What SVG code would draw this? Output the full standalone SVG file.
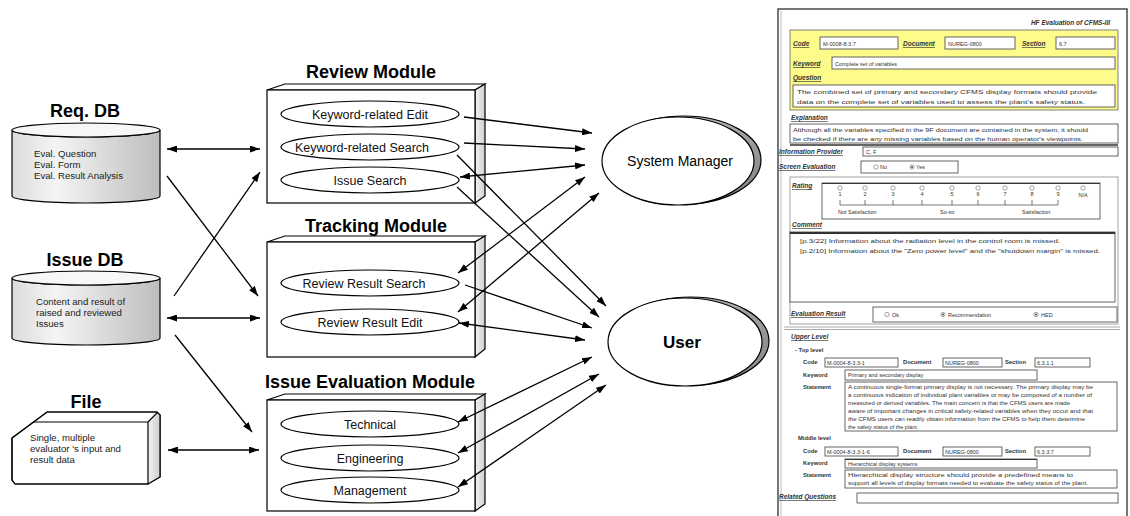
<svg xmlns="http://www.w3.org/2000/svg" width="1130" height="516" viewBox="0 0 1130 516">
<defs>
<marker id="ah" viewBox="0 0 10 7" markerWidth="10" markerHeight="7" refX="10" refY="3.5" orient="auto-start-reverse" markerUnits="userSpaceOnUse"><path d="M0,0 L10,3.5 L0,7 z" fill="#000"/></marker>
<linearGradient id="cyl" x1="0" y1="0" x2="1" y2="0"><stop offset="0" stop-color="#dcdcdc"/><stop offset="0.3" stop-color="#f4f4f4"/><stop offset="1" stop-color="#bdbdbd"/></linearGradient>
<linearGradient id="side" x1="0" y1="0" x2="1" y2="0"><stop offset="0" stop-color="#f2f2f2"/><stop offset="1" stop-color="#cfcfcf"/></linearGradient>
<linearGradient id="shd" x1="0" y1="0" x2="1" y2="1"><stop offset="0" stop-color="#c8c8c8"/><stop offset="1" stop-color="#808080"/></linearGradient>
</defs>
<style>
.t{font-family:"Liberation Sans",Arial,sans-serif;fill:#000}
.ttl{font-family:"Liberation Sans",Arial,sans-serif;font-weight:bold;font-size:18px;text-anchor:middle}
.db{font-family:"Liberation Sans",Arial,sans-serif;font-size:9.6px;fill:#222}
.uc{font-family:"Liberation Sans",Arial,sans-serif;font-size:12.5px;text-anchor:middle;fill:#111}
.ln{stroke:#000;stroke-width:1.3;fill:none}
.out{stroke:#000;stroke-width:1.2}
.f{font-family:"Liberation Sans",Arial,sans-serif;font-size:5.5px;fill:#333}
.fl{font-family:"Liberation Sans",Arial,sans-serif;font-size:6.5px;font-weight:bold;font-style:italic;fill:#333;text-decoration:underline}
.fb{font-family:"Liberation Sans",Arial,sans-serif;font-size:5.8px;font-weight:bold;fill:#333}
.bx{fill:#fff;stroke:#555;stroke-width:0.9}
.rd{fill:#fff;stroke:#666;stroke-width:0.6}
</style>

<g id="reqdb">
<text class="ttl" x="85" y="117">Req. DB</text>
<path d="M12,130 L12,196 A74,7 0 0 0 160,196 L160,130 A74,7 0 0 1 12,130 Z" fill="url(#cyl)" class="out"/>
<ellipse cx="86" cy="130" rx="74" ry="7" fill="#f7f7f7" class="out"/>
<text class="db" x="34" y="157">Eval. Question</text>
<text class="db" x="34" y="168">Eval. Form</text>
<text class="db" x="34" y="179">Eval. Result Analysis</text>
</g>

<g id="issuedb">
<text class="ttl" x="85" y="266">Issue DB</text>
<path d="M12,278 L12,338 A74,7 0 0 0 160,338 L160,278 A74,7 0 0 1 12,278 Z" fill="url(#cyl)" class="out"/>
<ellipse cx="86" cy="278" rx="74" ry="7" fill="#f7f7f7" class="out"/>
<text class="db" x="36" y="305">Content and result of</text>
<text class="db" x="36" y="316">raised and reviewed</text>
<text class="db" x="36" y="327">Issues</text>
</g>

<g id="file">
<text class="ttl" x="86" y="408">File</text>
<path d="M12,438 L47,412 L157,412 L160,415 L160,477 L148,484 L15,484 L12,480 Z" fill="#fff" class="out"/>
<path d="M148,422 L158,413 L160,415 L160,477 L148,484 Z" fill="url(#side)" stroke="none"/>
<path d="M34,422 L148,422 L148,484 M148,422 L157,413" class="out" fill="none"/>
<path d="M12,438 L47,412 L157,412 L160,415 L160,477 L148,484 L15,484 L12,480 Z" fill="none" class="out"/>
<text class="db" x="30" y="441">Single, multiple</text>
<text class="db" x="30" y="452">evaluator  's input and</text>
<text class="db" x="30" y="463">result data</text>
</g>

<g id="review">
<text class="ttl" x="371" y="78">Review Module</text>
<polygon points="267,90 285,84 485,84 475,90" fill="#fff" class="out"/>
<polygon points="475,90 485,84 485,196 475,203" fill="url(#side)" class="out"/>
<rect x="267" y="90" width="208" height="113" fill="#fff" class="out"/>
<ellipse cx="370" cy="114" rx="89" ry="13" fill="#fff" class="out"/>
<text class="uc" x="370" y="118.5">Keyword-related Edit</text>
<ellipse cx="370" cy="147" rx="89" ry="13" fill="#fff" class="out"/>
<text class="uc" x="362" y="151.5">Keyword-related Search</text>
<ellipse cx="370" cy="180" rx="89" ry="13" fill="#fff" class="out"/>
<text class="uc" x="370" y="184.5">Issue Search</text>
</g>

<g id="tracking">
<text class="ttl" x="376" y="232">Tracking Module</text>
<polygon points="267,242 285,236 485,236 475,242" fill="#fff" class="out"/>
<polygon points="475,242 485,236 485,349 475,357" fill="url(#side)" class="out"/>
<rect x="267" y="242" width="208" height="115" fill="#fff" class="out"/>
<ellipse cx="370" cy="283" rx="89" ry="13" fill="#fff" class="out"/>
<text class="uc" x="364" y="287.5">Review Result Search</text>
<ellipse cx="370" cy="322" rx="89" ry="13" fill="#fff" class="out"/>
<text class="uc" x="370" y="326.5">Review Result Edit</text>
</g>

<g id="evaluation">
<text class="ttl" x="370" y="388">Issue Evaluation Module</text>
<polygon points="267,400 285,394 485,394 475,400" fill="#fff" class="out"/>
<polygon points="475,400 485,394 485,504 475,511" fill="url(#side)" class="out"/>
<rect x="267" y="400" width="208" height="111" fill="#fff" class="out"/>
<ellipse cx="370" cy="424" rx="89" ry="13" fill="#fff" class="out"/>
<text class="uc" x="370" y="428.5">Technical</text>
<ellipse cx="370" cy="458" rx="89" ry="13" fill="#fff" class="out"/>
<text class="uc" x="370" y="462.5">Engineering</text>
<ellipse cx="370" cy="490" rx="89" ry="13" fill="#fff" class="out"/>
<text class="uc" x="370" y="494.5">Management</text>
</g>

<g id="sysmgr">
<ellipse cx="684" cy="160" rx="77" ry="44" fill="url(#shd)" class="out"/>
<ellipse cx="678" cy="161" rx="76" ry="44" fill="#fff" class="out"/>
<text class="t" x="680" y="166" font-size="14" text-anchor="middle" fill="#111">System Manager</text>
</g>

<g id="user">
<ellipse cx="691" cy="341" rx="78" ry="44" fill="url(#shd)" class="out"/>
<ellipse cx="685" cy="342" rx="77" ry="44" fill="#fff" class="out"/>
<text class="t" x="682" y="348" font-size="17" font-weight="bold" text-anchor="middle">User</text>
</g>

<g id="connectors">
<line class="ln" x1="167" y1="149" x2="260" y2="149" marker-start="url(#ah)" marker-end="url(#ah)"/>
<line class="ln" x1="167" y1="176" x2="258" y2="296" marker-end="url(#ah)"/>
<line class="ln" x1="174" y1="296" x2="260" y2="172" marker-end="url(#ah)"/>
<line class="ln" x1="167" y1="318" x2="260" y2="318" marker-start="url(#ah)" marker-end="url(#ah)"/>
<line class="ln" x1="175" y1="335" x2="252" y2="432" marker-end="url(#ah)"/>
<line class="ln" x1="168" y1="450" x2="259" y2="450" marker-start="url(#ah)" marker-end="url(#ah)"/>
<line class="ln" x1="464" y1="117" x2="592" y2="133" marker-end="url(#ah)"/>
<line class="ln" x1="464" y1="143" x2="585" y2="149" marker-end="url(#ah)"/>
<line class="ln" x1="460" y1="177" x2="585" y2="165" marker-start="url(#ah)" marker-end="url(#ah)"/>
<line class="ln" x1="457" y1="155" x2="606" y2="306" marker-end="url(#ah)"/>
<line class="ln" x1="457" y1="187" x2="599" y2="317" marker-end="url(#ah)"/>
<line class="ln" x1="458" y1="273" x2="585" y2="177" marker-start="url(#ah)" marker-end="url(#ah)"/>
<line class="ln" x1="458" y1="312" x2="599" y2="193" marker-start="url(#ah)" marker-end="url(#ah)"/>
<line class="ln" x1="465" y1="285" x2="592" y2="328" marker-end="url(#ah)"/>
<line class="ln" x1="459" y1="323" x2="585" y2="340" marker-start="url(#ah)" marker-end="url(#ah)"/>
<line class="ln" x1="458" y1="422" x2="592" y2="357" marker-start="url(#ah)" marker-end="url(#ah)"/>
<line class="ln" x1="458" y1="453" x2="599" y2="374" marker-start="url(#ah)" marker-end="url(#ah)"/>
<line class="ln" x1="458" y1="487" x2="606" y2="385" marker-start="url(#ah)" marker-end="url(#ah)"/>
</g>

<g id="form">
<rect x="778" y="9" width="349" height="520" fill="#fff" stroke="#555" stroke-width="1.6"/>
<line x1="781" y1="11" x2="781" y2="516" stroke="#bbb" stroke-width="1"/>
<text class="fl" x="1110" y="25" text-anchor="end" style="text-decoration:none">HF Evaluation of CFMS-III</text>

<rect x="790" y="30" width="328" height="80" fill="#fdfb8a" stroke="#777" stroke-width="0.9"/>
<text class="fl" x="793" y="46">Code</text>
<rect class="bx" x="820" y="37" width="78" height="12"/>
<text class="f" x="823" y="45.5">M-0008-8.3.7</text>
<text class="fl" x="903" y="46">Document</text>
<rect class="bx" x="945" y="37" width="70" height="12"/>
<text class="f" x="948" y="45.5">NUREG-0800</text>
<text class="fl" x="1022" y="46">Section</text>
<rect class="bx" x="1056" y="37" width="59" height="12"/>
<text class="f" x="1059" y="45.5">6.7</text>
<text class="fl" x="793" y="66">Keyword</text>
<rect class="bx" x="832" y="57" width="283" height="12"/>
<text class="f" x="835" y="65.5">Complete set of variables</text>
<text class="fl" x="793" y="80">Question</text>
<rect class="bx" x="793" y="85" width="322" height="22" stroke-width="1.3"/>
<text class="f" x="797" y="94" font-size="6.3" textLength="300" lengthAdjust="spacingAndGlyphs">The combined set of primary and secondary CFMS display formats should provide</text>
<text class="f" x="797" y="104" font-size="6.3" textLength="288" lengthAdjust="spacingAndGlyphs">data on the complete set of variables used to assess the plant's safety status.</text>

<text class="fl" x="791" y="120">Explanation</text>
<rect class="bx" x="790" y="124" width="328" height="19"/>
<text class="f" x="793" y="132" textLength="295" lengthAdjust="spacingAndGlyphs">Although all the variables specified in the 9F document are contained in the system, it should</text>
<text class="f" x="793" y="141" textLength="290" lengthAdjust="spacingAndGlyphs">be checked if there are any missing variables based on the human operator's viewpoints.</text>
<line x1="790" y1="145" x2="1118" y2="145" stroke="#333" stroke-width="1.4"/>
<text class="fl" x="779" y="154">Information Provider</text>
<rect class="bx" x="863" y="147" width="255" height="9"/>
<text class="f" x="866" y="154">C, F</text>
<text class="fl" x="779" y="169">Screen Evaluation</text>
<rect class="bx" x="861" y="161" width="97" height="12"/>
<circle class="rd" cx="876" cy="167" r="2.2"/>
<text class="f" x="880" y="169">No</text>
<circle class="rd" cx="912" cy="167" r="2.2"/>
<circle cx="912" cy="167" r="1" fill="#444"/>
<text class="f" x="916" y="169">Yes</text>

<rect x="790" y="177" width="328" height="147" fill="none" stroke="#999" stroke-width="0.9"/>
<text class="fl" x="792" y="188">Rating</text>
<rect class="bx" x="822" y="183" width="278" height="36"/>
<line x1="822" y1="183.5" x2="1100" y2="183.5" stroke="#333" stroke-width="1.2"/>
<g class="rating">
<circle class="rd" cx="840" cy="188" r="2.2"/><circle class="rd" cx="865" cy="188" r="2.2"/><circle class="rd" cx="893" cy="188" r="2.2"/><circle class="rd" cx="922" cy="188" r="2.2"/><circle class="rd" cx="952" cy="188" r="2.2"/><circle class="rd" cx="978" cy="188" r="2.2"/><circle class="rd" cx="1005" cy="188" r="2.2"/><circle class="rd" cx="1032" cy="188" r="2.2"/><circle class="rd" cx="1058" cy="188" r="2.2"/><circle class="rd" cx="1083" cy="188" r="2.2"/>
<text class="f" x="840" y="196" text-anchor="middle" font-size="4.5">1</text><text class="f" x="865" y="196" text-anchor="middle" font-size="4.5">2</text><text class="f" x="893" y="196" text-anchor="middle" font-size="4.5">3</text><text class="f" x="922" y="196" text-anchor="middle" font-size="4.5">4</text><text class="f" x="952" y="196" text-anchor="middle" font-size="4.5">5</text><text class="f" x="978" y="196" text-anchor="middle" font-size="4.5">6</text><text class="f" x="1005" y="196" text-anchor="middle" font-size="4.5">7</text><text class="f" x="1032" y="196" text-anchor="middle" font-size="4.5">8</text><text class="f" x="1058" y="196" text-anchor="middle" font-size="4.5">9</text><text class="f" x="1083" y="197" text-anchor="middle" font-size="4.5">N/A</text>
<path d="M840,205 L1058,205 M840,200 V205 M865,200 V205 M893,200 V205 M922,200 V205 M952,200 V205 M978,200 V205 M1005,200 V205 M1032,200 V205 M1058,200 V205" stroke="#444" stroke-width="0.7" fill="none"/>
<text class="f" x="838" y="214">Not Satisfaction</text>
<text class="f" x="940" y="214">So-so</text>
<text class="f" x="1022" y="214">Satisfaction</text>
</g>
<text class="fl" x="792" y="227">Comment</text>
<rect class="bx" x="790" y="232" width="325" height="70"/>
<line x1="790" y1="233" x2="1115" y2="233" stroke="#333" stroke-width="2.2"/>
<text class="f" x="800" y="243" textLength="260" lengthAdjust="spacingAndGlyphs">[p.3/22] Information about the radiation level in the control room is missed.</text>
<text class="f" x="800" y="253" textLength="300" lengthAdjust="spacingAndGlyphs">[p.2/10] Information about the "Zero power level" and the "shutdown margin" is missed.</text>
<text class="fl" x="791" y="316">Evaluation Result</text>
<rect class="bx" x="873" y="307" width="244" height="15" stroke-width="1.2"/>
<circle class="rd" cx="887" cy="314.5" r="2.2"/>
<text class="f" x="892" y="316.5">Ok</text>
<circle class="rd" cx="943" cy="314.5" r="2.2"/><circle cx="943" cy="314.5" r="1" fill="#444"/>
<text class="f" x="948" y="316.5">Recommendation</text>
<circle class="rd" cx="1036" cy="314.5" r="2.2"/><circle cx="1036" cy="314.5" r="1" fill="#444"/>
<text class="f" x="1041" y="316.5">HED</text>
<line x1="784" y1="327" x2="1120" y2="327" stroke="#aaa" stroke-width="1"/>
<line x1="784" y1="329.5" x2="1120" y2="329.5" stroke="#aaa" stroke-width="1"/>

<text class="fl" x="791" y="339">Upper Level</text>
<text class="fb" x="795" y="352">- Top level</text>
<text class="fb" x="803" y="364">Code</text>
<rect class="bx" x="825" y="358" width="73" height="9"/>
<text class="f" x="827" y="364.5">M-0004-8-3.3-1</text>
<text class="fb" x="903" y="364">Document</text>
<rect class="bx" x="943" y="358" width="59" height="9"/>
<text class="f" x="945" y="364.5">NUREG-0800</text>
<text class="fb" x="1005" y="364">Section</text>
<rect class="bx" x="1035" y="358" width="55" height="9"/>
<text class="f" x="1037" y="364.5">6.3.1.1</text>
<text class="fb" x="803" y="377">Keyword</text>
<rect class="bx" x="845" y="370" width="192" height="10"/>
<text class="f" x="848" y="377">Primary and secondary display</text>
<text class="fb" x="803" y="389">Statement</text>
<rect class="bx" x="845" y="382" width="272" height="49"/>
<text class="f" x="848" y="389" font-size="5" textLength="245" lengthAdjust="spacingAndGlyphs">A continuous single-format primary display is not necessary. The primary display may be</text>
<text class="f" x="848" y="397" font-size="5" textLength="244" lengthAdjust="spacingAndGlyphs">a continuous indication of individual plant variables or may be composed of a number of</text>
<text class="f" x="848" y="405" font-size="5" textLength="222" lengthAdjust="spacingAndGlyphs">measured or derived variables. The main concern is that the CFMS users are made</text>
<text class="f" x="848" y="413" font-size="5" textLength="245" lengthAdjust="spacingAndGlyphs">aware of important changes in critical safety-related variables when they occur and that</text>
<text class="f" x="848" y="421" font-size="5" textLength="237" lengthAdjust="spacingAndGlyphs">the CFMS users can readily obtain information from the CFMS to help them determine</text>
<text class="f" x="848" y="429" font-size="5">the safety status of the plant.</text>
<text class="fb" x="798" y="440">Middle level</text>
<text class="fb" x="803" y="453">Code</text>
<rect class="bx" x="825" y="447" width="73" height="9"/>
<text class="f" x="827" y="453.5">M-0004-8-3.3-1-6</text>
<text class="fb" x="903" y="453">Document</text>
<rect class="bx" x="943" y="447" width="59" height="9"/>
<text class="f" x="945" y="453.5">NUREG-0800</text>
<text class="fb" x="1005" y="453">Section</text>
<rect class="bx" x="1035" y="447" width="55" height="9"/>
<text class="f" x="1037" y="453.5">6.3.3.7</text>
<text class="fb" x="803" y="465">Keyword</text>
<rect class="bx" x="845" y="459" width="192" height="9"/>
<line x1="845" y1="459.5" x2="1037" y2="459.5" stroke="#333" stroke-width="1.2"/>
<text class="f" x="848" y="466">Hierarchical display systems</text>
<text class="fb" x="803" y="477">Statement</text>
<rect class="bx" x="845" y="470" width="272" height="18"/>
<text class="f" x="848" y="477" font-size="5" textLength="225" lengthAdjust="spacingAndGlyphs">Hierarchical display structure should provide a predefined means to</text>
<text class="f" x="848" y="485" font-size="5" textLength="240" lengthAdjust="spacingAndGlyphs">support all levels of display formats needed to evaluate the safety status of the plant.</text>
<text class="fl" x="779" y="499">Related Questions</text>
<rect class="bx" x="857" y="493" width="261" height="10"/>
</g>
</svg>
